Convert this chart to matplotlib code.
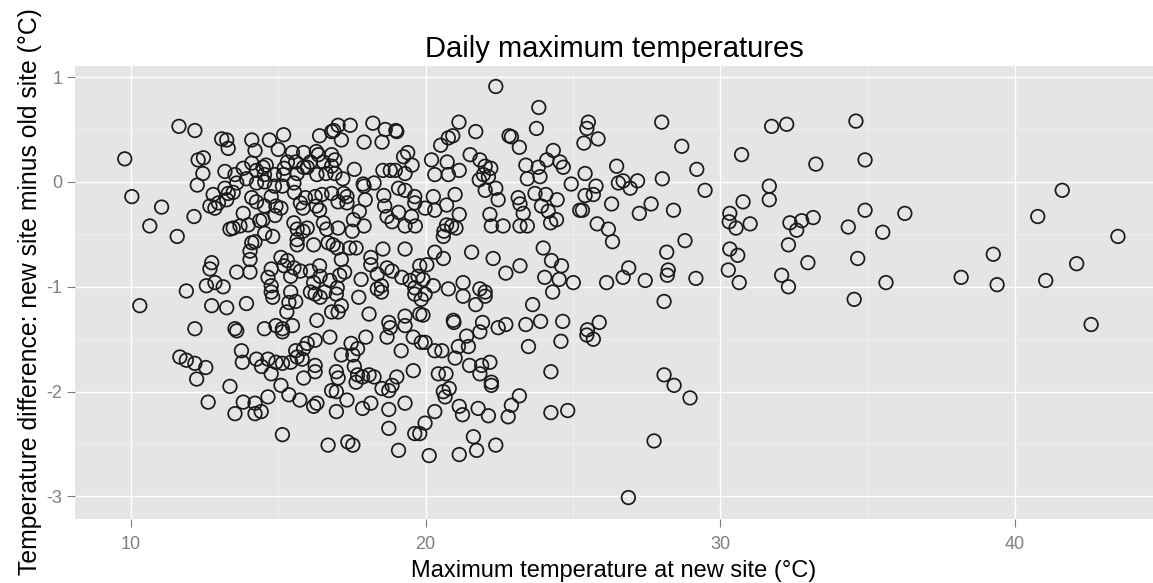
import matplotlib.pyplot as plt
import numpy as np

plt.rcParams['font.family'] = ['Liberation Sans', 'DejaVu Sans']
plt.rcParams['axes.unicode_minus'] = False

# daily maximum at the new site (deg C)
max_temp_new = [
    # warm days, 25-35 C
    25.52, 25.47, 25.37, 25.85, 28.01, 28.69, 31.74, 32.25, 34.60, 30.72,
    33.24, 34.91, 26.48, 25.41, 29.20, 28.03, 26.54, 26.70, 26.94, 27.19,
    25.78, 25.69, 25.41, 29.48, 31.66, 31.66, 30.77, 26.31, 27.65, 28.41,
    27.25, 25.32, 30.32, 30.30, 30.53, 31.01, 32.36, 32.59, 32.76, 33.15,
    34.34, 34.91, 25.82, 26.20, 26.34, 28.80, 28.18, 30.32, 30.59, 32.31,
    32.97, 34.66, 26.89, 26.70, 28.23, 28.20, 26.14, 27.45, 29.17, 30.27,
    30.64, 32.08, 32.31, 34.54, 28.09, 25.89, 25.49, 25.47, 25.69, 28.09,
    28.43, 28.97, 27.75, 26.88,
    # hot days
    36.26, 35.51, 35.62, 38.17, 39.26, 39.39, 41.60, 40.77, 43.49, 42.09,
    41.04, 42.58,
    # 20-25 C
    22.38, 23.84, 23.76, 21.13, 21.70, 20.92, 20.77, 20.51, 22.83, 22.91,
    23.18, 24.33, 24.11, 24.56, 24.67, 21.51, 21.84, 20.20, 20.73, 21.14,
    20.31, 20.77, 22.02, 22.21, 21.96, 22.13, 21.82, 23.40, 23.82, 23.88,
    23.45, 24.94, 22.02, 22.38, 22.46, 21.00, 20.26, 20.71, 20.31, 19.98,
    21.14, 23.71, 24.08, 24.46, 23.93, 24.16, 24.44, 24.24, 23.14, 23.20,
    23.31, 23.20, 23.45, 22.18, 22.23, 22.63, 25.23, 20.71, 20.88, 21.03,
    20.62, 20.60, 21.56, 22.29, 22.72, 23.20, 23.99, 24.27, 24.61, 24.04,
    24.53, 25.01, 20.31, 20.60, 20.04, 19.91, 20.26, 20.77, 21.27, 21.84,
    22.02,
    21.27, 22.02, 21.70, 19.98, 19.91, 20.94, 20.96, 21.93, 21.84, 22.46,
    22.72, 23.40, 23.90, 23.63, 24.31, 24.65, 24.59, 23.49, 19.98, 20.31,
    20.55, 21.00, 21.11, 21.45, 21.39, 21.49, 21.84, 21.90, 22.18, 22.23,
    22.23, 24.25, 20.43, 20.69, 20.60, 20.80, 20.66, 20.31, 19.98, 19.80,
    21.14, 21.25, 21.78, 22.13, 22.80, 22.91, 23.18, 24.25, 24.82, 21.62,
    21.73, 22.38, 20.12, 21.14,
    # 14-20 C
    18.21, 17.44, 17.03, 16.88, 16.81, 16.40, 17.14, 17.91, 18.52, 18.63,
    18.99, 19.02, 15.18, 14.70, 15.00, 15.48, 15.86, 16.29, 16.36, 16.81,
    16.92, 16.81, 16.53, 16.09, 15.98, 15.59, 15.31, 15.20, 14.59, 14.53,
    14.87, 15.18, 15.64, 15.86, 16.31, 16.62, 16.92, 17.19, 17.58, 17.88,
    18.25, 18.55, 18.80, 18.97, 19.25, 19.39, 19.54, 19.30, 19.08, 19.30,
    19.63, 19.63, 18.58, 18.61, 18.69, 18.86, 19.08, 19.52, 19.30, 19.65,
    17.91, 17.95, 17.75, 17.55, 17.91, 17.51, 17.22, 17.33, 17.33, 17.03,
    16.81, 16.48, 16.25, 16.29, 16.40, 15.92, 15.75, 15.84, 15.53, 15.55,
    15.14, 14.87, 14.76, 14.92, 14.89, 15.09, 14.53, 14.48, 15.53, 15.64,
    15.98, 15.84, 16.53, 16.64, 17.03, 14.81, 15.64, 15.64, 16.20, 16.69,
    16.86, 17.00, 17.42, 17.64, 17.14, 18.14, 18.14, 18.55, 19.30, 18.69,
    18.86, 18.36, 19.80, 19.19, 19.47, 19.74, 19.63, 15.09, 15.20, 15.31,
    15.53, 15.75, 14.76, 14.65, 15.42, 16.09, 16.40, 16.42, 17.08, 17.25,
    17.81, 16.20, 16.75, 17.00, 16.58, 14.76, 14.76, 15.42, 16.09, 18.36,
    18.50,
    14.81, 15.36, 15.59, 15.29, 16.25, 16.42, 16.97, 17.14, 16.81, 17.03,
    17.73, 18.50, 18.08, 19.63, 19.85, 19.80, 19.30, 18.75, 18.80, 18.69,
    19.30, 17.97, 19.58, 19.85, 19.17, 16.31, 16.75, 16.25, 15.98, 14.53,
    14.92, 15.14, 15.48, 15.14, 15.59, 15.86, 15.64, 15.81, 14.65, 14.92,
    15.14, 15.42, 14.76, 16.25, 16.25, 15.86, 17.14, 17.47, 17.53, 17.69,
    17.58, 16.97, 17.03, 17.69, 17.64, 17.86, 18.08, 18.25, 15.09, 15.36,
    14.65, 14.42, 15.73, 16.20, 16.31, 16.81, 16.97, 16.97, 17.33, 17.86,
    18.14, 18.52, 18.75, 18.86, 19.02, 19.30, 18.75, 18.75, 19.58, 19.63,
    19.08, 15.14, 16.69, 17.36, 17.53,
    # cool days, below 14.5 C
    9.79, 10.03, 11.04, 10.64, 11.57, 12.14, 11.63, 12.17, 13.08, 13.25,
    13.30, 14.10, 14.21, 12.28, 12.46, 12.44, 12.25, 13.19, 13.53, 13.81,
    14.10, 14.26, 14.48, 13.59, 13.92, 14.26, 14.54, 12.79, 13.19, 13.30,
    13.47, 12.68, 12.85, 12.97, 13.25, 14.10, 14.26, 13.81, 14.37, 13.36,
    13.47, 13.70, 13.98, 14.10, 14.21, 14.04, 14.04, 14.04, 14.54, 12.74,
    12.68, 13.59, 12.56, 12.85, 13.13, 11.88,
    10.30, 12.74, 13.25, 13.92, 12.17, 13.59, 13.53, 11.66, 11.88, 12.17,
    12.54, 12.23, 13.75, 13.78, 14.26, 14.43, 13.36, 12.62, 13.81, 14.21,
    13.53, 14.21,
]

# new site minus old site (deg C), same order as above
temp_diff = [
    0.57, 0.51, 0.37, 0.41, 0.57, 0.34, 0.53, 0.55, 0.58, 0.26,
    0.17, 0.21, 0.15, 0.08, 0.12, 0.03, -0.01, 0.01, -0.06, 0.01,
    -0.04, -0.12, -0.13, -0.08, -0.04, -0.17, -0.19, -0.21, -0.21, -0.27,
    -0.30, -0.27, -0.30, -0.38, -0.44, -0.40, -0.39, -0.46, -0.37, -0.34,
    -0.43, -0.27, -0.40, -0.45, -0.57, -0.56, -0.67, -0.64, -0.70, -0.60,
    -0.77, -0.73, -0.82, -0.91, -0.84, -0.89, -0.96, -0.94, -0.92, -0.84,
    -0.96, -0.89, -1.00, -1.12, -1.14, -1.34, -1.41, -1.46, -1.50, -1.84,
    -1.94, -2.06, -2.47, -3.01,
    -0.30, -0.48, -0.96, -0.91, -0.69, -0.98, -0.08, -0.33, -0.52, -0.78,
    -0.94, -1.36,
    0.91, 0.71, 0.51, 0.57, 0.48, 0.44, 0.42, 0.35, 0.44, 0.43,
    0.33, 0.30, 0.21, 0.19, 0.14, 0.26, 0.21, 0.21, 0.19, 0.11,
    0.07, 0.07, 0.15, 0.13, 0.07, 0.05, 0.02, 0.16, 0.14, 0.05,
    0.03, -0.02, -0.08, -0.06, -0.17, -0.12, -0.14, -0.22, -0.27, -0.25,
    -0.31, -0.11, -0.12, -0.17, -0.23, -0.28, -0.36, -0.39, -0.15, -0.21,
    -0.30, -0.42, -0.42, -0.31, -0.42, -0.42, -0.27, -0.41, -0.42, -0.44,
    -0.47, -0.52, -0.67, -0.73, -0.87, -0.80, -0.63, -0.75, -0.80, -0.91,
    -0.93, -0.96, -0.67, -0.73, -0.79, -0.93, -0.99, -1.02, -0.96, -1.02,
    -1.05,
    -1.09, -1.09, -1.17, -1.07, -1.27, -1.32, -1.34, -1.34, -1.43, -1.39,
    -1.36, -1.36, -1.33, -1.17, -1.05, -1.33, -1.52, -1.57, -1.53, -1.61,
    -1.61, -1.68, -1.57, -1.57, -1.47, -1.75, -1.83, -1.75, -1.72, -1.91,
    -1.94, -1.81, -1.83, -1.83, -2.00, -1.97, -2.05, -2.19, -2.30, -2.40,
    -2.14, -2.22, -2.16, -2.23, -2.24, -2.13, -2.04, -2.20, -2.18, -2.43,
    -2.56, -2.51, -2.61, -2.60,
    0.56, 0.54, 0.54, 0.49, 0.48, 0.44, 0.40, 0.38, 0.38, 0.50,
    0.49, 0.48, 0.45, 0.40, 0.31, 0.28, 0.28, 0.29, 0.26, 0.26,
    0.21, 0.15, 0.19, 0.19, 0.14, 0.19, 0.19, 0.13, 0.16, 0.07,
    0.07, 0.07, 0.08, 0.14, 0.07, 0.08, 0.08, 0.03, 0.12, -0.02,
    -0.01, 0.11, 0.11, 0.11, 0.24, 0.28, 0.16, 0.08, -0.06, -0.08,
    -0.14, -0.20, -0.13, -0.23, -0.33, -0.38, -0.29, -0.33, -0.42, -0.42,
    -0.04, -0.17, -0.28, -0.36, -0.42, -0.47, -0.11, -0.14, -0.20, -0.19,
    -0.11, -0.12, -0.14, -0.23, -0.27, -0.15, -0.20, -0.25, -0.01, -0.10,
    -0.04, -0.04, -0.14, -0.23, -0.32, -0.25, -0.23, -0.36, -0.39, -0.45,
    -0.44, -0.47, -0.39, -0.45, -0.44, -0.52, -0.55, -0.60, -0.60, -0.58,
    -0.60, -0.63, -0.63, -0.63, -0.74, -0.72, -0.79, -0.64, -0.64, -0.82,
    -0.85, -0.88, -0.80, -0.91, -0.94, -0.90, -1.01, -0.72, -0.80, -0.75,
    -0.82, -0.85, -0.83, -0.91, -0.90, -0.85, -0.80, -0.90, -0.89, -0.86,
    -0.93, -0.96, -0.94, -1.01, -1.05, -0.99, -1.05, -1.05, -1.05, -1.02,
    -0.99,
    -1.10, -1.15, -1.14, -1.24, -1.07, -1.10, -1.07, -1.18, -1.24, -1.24,
    -1.10, -1.05, -1.26, -1.07, -1.12, -1.26, -1.28, -1.34, -1.39, -1.48,
    -1.37, -1.48, -1.48, -1.53, -1.61, -1.32, -1.48, -1.51, -1.54, -1.40,
    -1.37, -1.40, -1.37, -1.43, -1.61, -1.59, -1.67, -1.69, -1.69, -1.72,
    -1.73, -1.72, -1.83, -1.75, -1.81, -1.87, -1.65, -1.54, -1.65, -1.59,
    -1.76, -1.81, -1.87, -1.84, -1.91, -1.86, -1.84, -1.86, -1.94, -2.03,
    -2.05, -2.19, -2.08, -2.14, -2.11, -1.99, -2.00, -2.19, -2.08, -2.16,
    -2.11, -1.97, -1.99, -1.94, -1.86, -2.11, -2.17, -2.35, -1.80, -2.40,
    -2.56, -2.41, -2.51, -2.48, -2.51,
    0.22, -0.14, -0.24, -0.42, -0.52, -0.33, 0.53, 0.49, 0.41, 0.40,
    0.32, 0.40, 0.30, 0.21, 0.23, 0.08, -0.03, 0.10, 0.07, 0.13,
    0.18, 0.11, 0.14, -0.01, 0.03, -0.01, 0.00, -0.12, -0.06, -0.11,
    -0.10, -0.23, -0.25, -0.20, -0.17, -0.15, -0.19, -0.30, -0.37, -0.45,
    -0.44, -0.42, -0.41, -0.58, -0.57, -0.66, -0.74, -0.86, -0.49, -0.77,
    -0.83, -0.86, -0.99, -0.96, -1.00, -1.04,
    -1.18, -1.18, -1.20, -1.16, -1.40, -1.42, -1.40, -1.67, -1.70, -1.73,
    -1.77, -1.88, -1.61, -1.72, -1.69, -1.76, -1.95, -2.10, -2.10, -2.11,
    -2.21, -2.21,
]

x_ticks = [10, 20, 30, 40]
y_ticks = [-3, -2, -1, 0, 1]

fig = plt.figure(figsize=(11.53, 5.83), dpi=100)
ax = fig.add_axes([0.065, 0.1106, 0.935, 0.777])
ax.set_facecolor('#E5E5E5')
for s in ax.spines.values():
    s.set_visible(False)

ax.set_xlim(8.10, 44.68)
ax.set_ylim(-3.21, 1.11)
ax.set_xticks(x_ticks)
ax.set_yticks(y_ticks)
ax.set_xticks([15, 25, 35], minor=True)
ax.set_yticks([-2.5, -1.5, -0.5, 0.5], minor=True)

ax.grid(which='major', color='white', linewidth=1.0)
ax.grid(which='minor', color='#F2F2F2', linewidth=0.5)
ax.set_axisbelow(True)

ax.tick_params(which='major', direction='out', length=5.5, width=0.8,
               color='#7F7F7F', labelcolor='#7F7F7F', labelsize=13)
ax.tick_params(axis='x', which='major', pad=7)
ax.tick_params(axis='y', which='major', pad=3.5)
ax.tick_params(which='minor', length=0)

ax.scatter(max_temp_new, temp_diff, s=95, facecolors='none',
           edgecolors='#1A1A1A', linewidths=1.25, zorder=3)

ax.set_xlabel('Maximum temperature at new site (°C)', fontsize=17, labelpad=5)
ax.set_ylabel('Temperature difference: new site minus old site (°C)',
              fontsize=17.8, labelpad=3)
ax.set_title('Daily maximum temperatures', fontsize=21, pad=6)

plt.savefig('out.png', dpi=100)
